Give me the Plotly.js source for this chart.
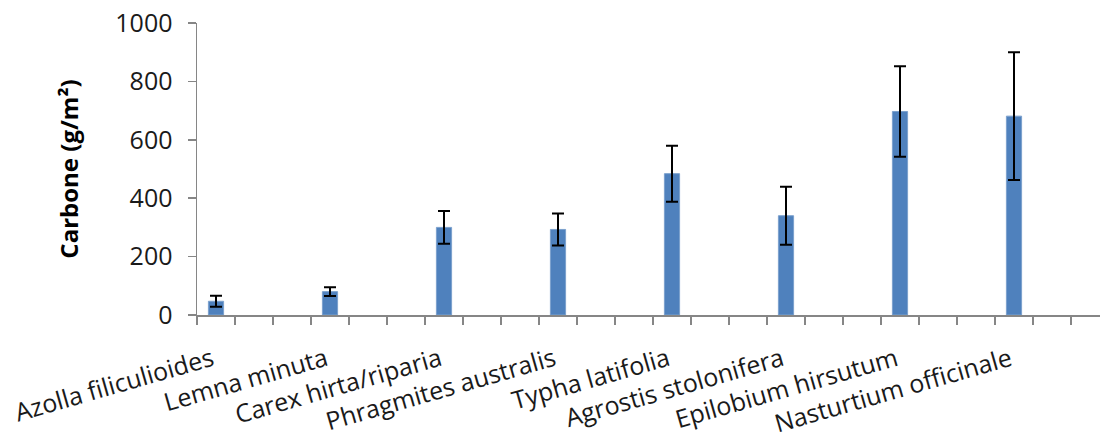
<!DOCTYPE html>
<html>
<head>
<meta charset="utf-8">
<script src="https://cdn.plot.ly/plotly-3.0.1.min.js"></script>
<style>
  html, body { margin: 0; padding: 0; overflow: hidden; background: #fff; }
  #chart { width: 1120px; height: 441px; }
</style>
</head>
<body>
<div id="chart"></div>
<script>
// Data
const species = [
  "Azolla filiculioides",
  "Lemna minuta",
  "Carex hirta/riparia",
  "Phragmites australis",
  "Typha latifolia",
  "Agrostis stolonifera",
  "Epilobium hirsutum",
  "Nasturtium officinale"
];
const carbon = [47, 80, 300, 293, 484, 340, 697, 681];
const carbonErr = [19, 15, 56, 55, 96, 99, 155, 219];
const yTicks = [0, 200, 400, 600, 800, 1000];

// Layout of category slots: each species occupies every third slot
const slotStep = 3;
const nSlots = 24;
const xPos = species.map((s, i) => i * slotStep);

const boundaries = [];
for (let k = 0; k <= nSlots; k++) boundaries.push(k - 0.5);

const font = "'Open Sans', 'Noto Sans', sans-serif";
const axisGrey = "#868686";

const trace = {
  type: "bar",
  x: xPos,
  y: carbon,
  width: 0.4,
  marker: { color: "#4F81BD", line: { color: "#7BA0CD", width: 1 } },
  error_y: { type: "data", array: carbonErr, visible: true, color: "#000000", thickness: 2, width: 6 },
  hoverinfo: "skip"
};

const layout = {
  width: 1120,
  height: 441,
  margin: { l: 197, r: 11, t: 23, b: 126 },
  paper_bgcolor: "#ffffff",
  plot_bgcolor: "#ffffff",
  showlegend: false,
  font: { family: font, color: "#000000" },
  xaxis: {
    range: [-0.5, nSlots - 0.5],
    tickmode: "array",
    tickvals: xPos,
    ticktext: species,
    ticks: "",
    tickangle: -16,
    tickfont: { family: font, size: 25, color: "#1a1a1a" },
    showgrid: false,
    zeroline: false,
    showline: true,
    linecolor: axisGrey,
    linewidth: 1.5,
    minor: { tickmode: "array", tickvals: boundaries, ticks: "outside", ticklen: 8, tickwidth: 1.5, tickcolor: axisGrey, showgrid: false },
    ticklabelstandoff: 19,
    ticklabelshift: -4,
    fixedrange: true
  },
  yaxis: {
    range: [0, 1000],
    tickmode: "array",
    tickvals: yTicks,
    ticktext: yTicks.map(String),
    ticks: "outside",
    ticklen: 8,
    tickwidth: 1.5,
    tickcolor: axisGrey,
    tickfont: { family: font, size: 25, color: "#1a1a1a" },
    showgrid: false,
    zeroline: false,
    showline: true,
    linecolor: axisGrey,
    linewidth: 1.5,
    ticklabelstandoff: 10,
    title: { text: "Carbone (g/m²)", font: { family: font, size: 24, color: "#000000", weight: "bold" }, standoff: 30 },
    fixedrange: true
  }
};

Plotly.newPlot("chart", [trace], layout, { displayModeBar: false, staticPlot: true });
</script>
</body>
</html>
